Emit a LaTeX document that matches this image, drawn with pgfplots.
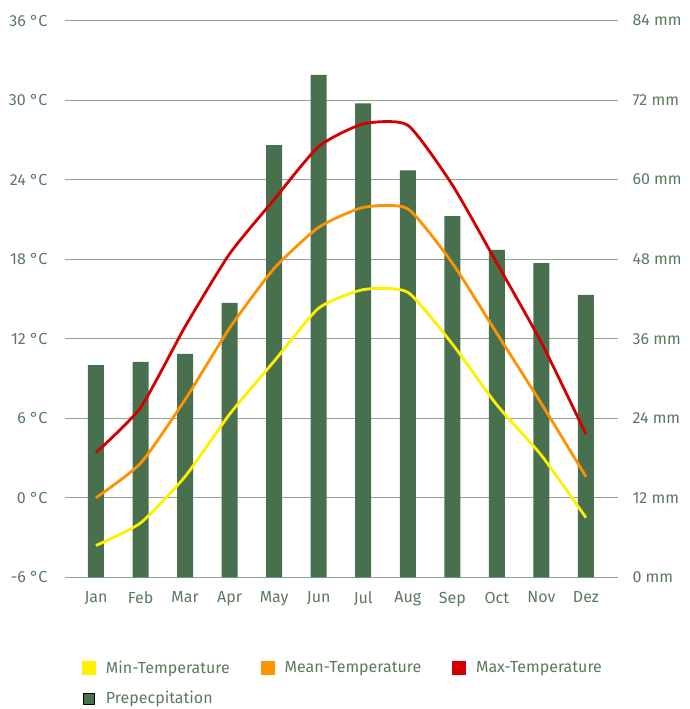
\documentclass[border=0pt]{standalone}
\usepackage{pgfplots}
\pgfplotsset{compat=1.18}
\usepackage{fontspec}
\setmainfont{Fira Sans}
\definecolor{txt}{HTML}{5A7A5E}
\definecolor{gridc}{HTML}{8EA88F}
\definecolor{barc}{HTML}{48704F}
\definecolor{cmin}{HTML}{FFF000}
\definecolor{cmean}{HTML}{FF9200}
\definecolor{cmax}{HTML}{D40000}
\begin{document}
\fontsize{16pt}{18pt}\selectfont
\begin{tikzpicture}
\useasboundingbox (-65pt,-131.7pt) rectangle (624pt,577.3pt);
\begin{axis}[at={(0,0)}, anchor=south west, scale only axis,
  width=553pt, height=556.8pt,
  xmin=-0.696, xmax=11.72, ymin=0, ymax=84,
  axis line style={draw=none},
  major tick length=0pt,
  /pgf/number format/assume math mode=true,
  ytick={0,12,...,84},
  yticklabel pos=right,
  yticklabel={\pgfmathprintnumber{\tick} mm},
  yticklabel style={font=\fontsize{16pt}{18pt}\selectfont, text=txt, anchor=west, xshift=9pt},
  xtick={0,...,11},
  xticklabels={Jan,Feb,Mar,Apr,May,Jun,Jul,Aug,Sep,Oct,Nov,Dez},
  xticklabel style={font=\fontsize{16pt}{18pt}\selectfont, text=txt, yshift=-9pt},
  ymajorgrids, grid style={gridc, line width=1pt},
  ybar, bar width=16pt,
]
\addplot[fill=barc, draw=none] coordinates {
(0,32.0) (1,32.5) (2,33.7) (3,41.4) (4,65.2) (5,75.8)
(6,71.5) (7,61.4) (8,54.5) (9,49.4) (10,47.4) (11,42.6)};
\end{axis}
\begin{axis}[at={(0,0)}, anchor=south west, scale only axis,
  width=553pt, height=556.8pt,
  xmin=-0.696, xmax=11.72, ymin=-6, ymax=36,
  axis line style={draw=none},
  major tick length=0pt,
  /pgf/number format/assume math mode=true,
  ytick={-6,0,...,36},
  yticklabel={\pgfmathprintnumber{\tick} °C},
  yticklabel style={font=\fontsize{16pt}{18pt}\selectfont, text=txt, anchor=east, xshift=-12pt},
  xtick=\empty,
  legend style={at={(axis description cs:0.0253,-0.142)}, anchor=north west,
    draw=none, fill=none, legend columns=3,
    font=\fontsize{16pt}{18pt}\selectfont, text=txt,
    /tikz/every odd column/.append style={column sep=8pt},
    /tikz/every even column/.append style={column sep=29pt},
    row sep=12pt},
  legend cell align=left,
  legend image code/.code={\fill[#1] (0pt,-5.5pt) rectangle (11pt,5.5pt);},
]
\addplot[cmin, line width=2.8pt, smooth, tension=0.35] coordinates {
(0,-3.6) (1,-1.9) (2,1.6) (3,6.3) (4,10.3) (5,14.3)
(6,15.7) (7,15.5) (8,11.6) (9,7.0) (10,3.2) (11,-1.5)};
\addlegendentry{Min-Temperature}
\addplot[cmean, line width=2.8pt, smooth, tension=0.35] coordinates {
(0,0.0) (1,2.6) (2,7.4) (3,12.8) (4,17.3) (5,20.4)
(6,21.9) (7,21.8) (8,17.7) (9,12.4) (10,7.1) (11,1.6)};
\addlegendentry{Mean-Temperature}
\addplot[cmax, line width=2.8pt, smooth, tension=0.35] coordinates {
(0,3.4) (1,6.8) (2,12.9) (3,18.4) (4,22.5) (5,26.5)
(6,28.2) (7,28.1) (8,23.6) (9,17.7) (10,11.7) (11,4.8)};
\addlegendentry{Max-Temperature}
\addlegendimage{fill=barc}
\addlegendentry{Prepecpitation}
\end{axis}
\end{tikzpicture}
\end{document}
